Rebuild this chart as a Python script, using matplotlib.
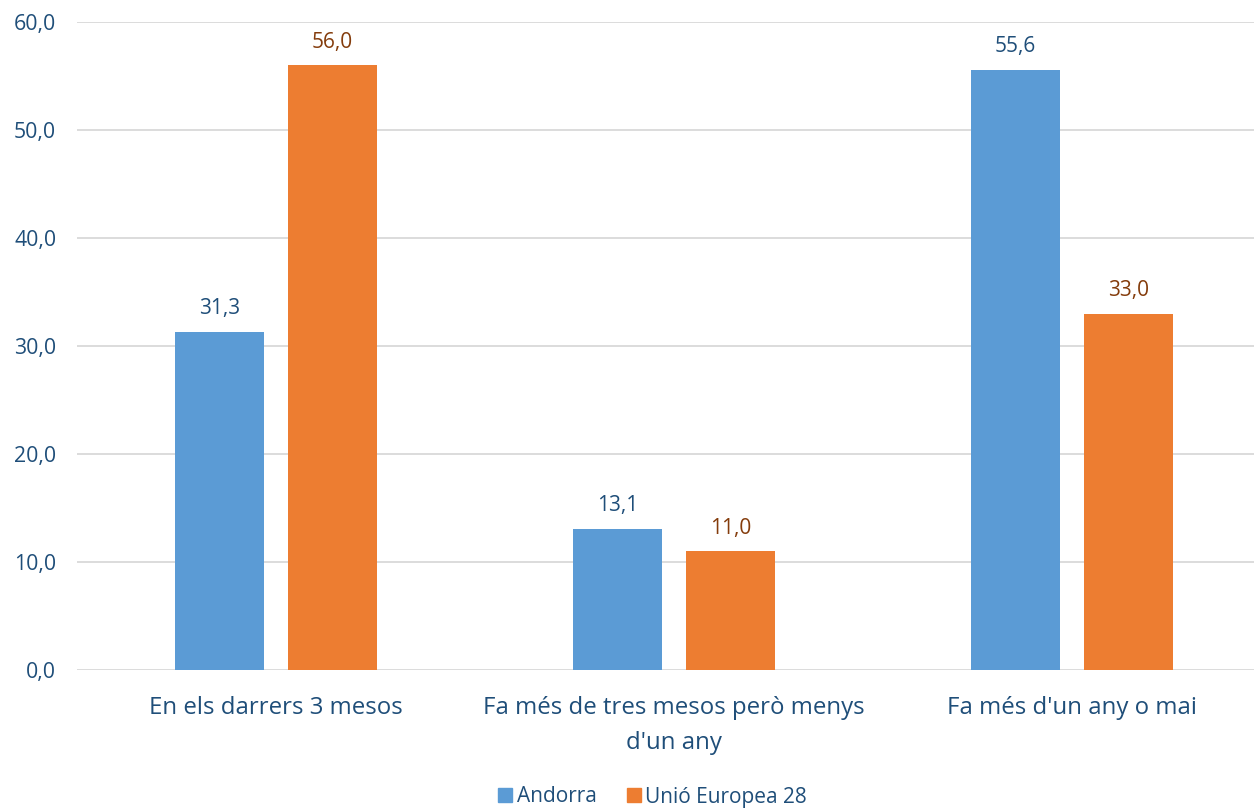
import matplotlib.pyplot as plt
import numpy as np
from matplotlib.lines import Line2D

categories = ['En els darrers 3 mesos', 'Fa més de tres mesos però menys\nd\'un any', 'Fa més d\'un any o mai']
andorra = [31.3, 13.1, 55.6]
ue28 = [56.0, 11.0, 33.0]
series_names = ['Andorra', 'Unió Europea 28']

blue = '#5B9BD5'
orange = '#ED7D31'
text_col = '#1F4E79'
label_ue = '#843C0C'

plt.rcParams['font.family'] = ['Open Sans', 'DejaVu Sans']

fig = plt.figure(figsize=(12.54, 8.09), dpi=100)
ax = fig.add_axes([77 / 1254, 1 - 670 / 809, 1 - 77 / 1254, (670 - 22) / 809])

x = np.arange(len(categories))
w = 0.223
off = 0.142
b1 = ax.bar(x - off, andorra, w, color=blue, zorder=3)
b2 = ax.bar(x + off, ue28, w, color=orange, zorder=3)

for rect, v in zip(b1, andorra):
    ax.annotate(f'{v:.1f}'.replace('.', ','), (rect.get_x() + rect.get_width() / 2, v),
                xytext=(0, 9), textcoords='offset points', ha='center', va='bottom',
                fontsize=15, color=text_col)
for rect, v in zip(b2, ue28):
    ax.annotate(f'{v:.1f}'.replace('.', ','), (rect.get_x() + rect.get_width() / 2, v),
                xytext=(0, 9), textcoords='offset points', ha='center', va='bottom',
                fontsize=15, color=label_ue)

ax.set_ylim(0, 60)
ax.set_xlim(-0.5, 2.5 - 17 / 398)
ax.set_yticks(np.arange(0, 61, 10))
ax.set_yticklabels([f'{t:.1f}'.replace('.', ',') for t in np.arange(0, 61, 10)],
                   fontsize=15.3, color=text_col)
ax.set_xticks(x)
ax.set_xticklabels(categories, fontsize=17.3, color=text_col, linespacing=1.6)
ax.tick_params(axis='both', length=0)
ax.tick_params(axis='y', pad=15)
ax.tick_params(axis='x', pad=19)
ax.grid(axis='y', color='#D9D9D9', linewidth=1.3, zorder=0)
for s in ax.spines.values():
    s.set_visible(False)

handles = [Line2D([], [], marker='s', linestyle='none', markersize=10.5, color=blue),
           Line2D([], [], marker='s', linestyle='none', markersize=10.5, color=orange)]
leg = fig.legend(handles, series_names, loc='center', bbox_to_anchor=(651 / 1254, 1 - 797 / 809),
                 ncol=2, frameon=False, fontsize=15, handletextpad=0.05, columnspacing=1.3,
                 handlelength=1.0)
for t in leg.get_texts():
    t.set_color(text_col)

fig.savefig('out.png', dpi=100)
